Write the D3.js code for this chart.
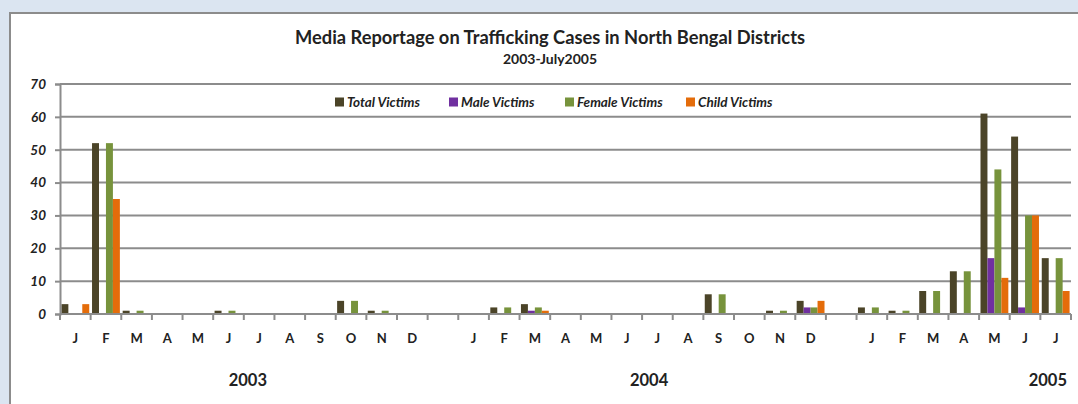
<!DOCTYPE html>
<html><head><meta charset="utf-8">
<script src="https://cdn.jsdelivr.net/npm/d3@7"></script>
<style>
html,body{margin:0;padding:0;background:#dbe5f1;}
svg{display:block;}
text{font-family:Lato,"Open Sans",sans-serif;fill:#222;}
</style></head>
<body>
<svg id="c" width="1078" height="404"></svg>
<script>
// Categories: month letters with an empty slot between years
const months = ["J","F","M","A","M","J","J","A","S","O","N","D","",
                "J","F","M","A","M","J","J","A","S","O","N","D","",
                "J","F","M","A","M","J","J"];
const years = ["2003","2004","2005"];
const seriesNames = ["Total Victims","Male Victims","Female Victims","Child Victims"];
const seriesColors = ["#4b4428","#7030a0","#77933c","#e46c0a"];
const totalVictims  = [3,52,1,0,0,1,0,0,0,4,1,0,null, 0,2,3,0,0,0,0,0,6,0,1,4,null, 2,1,7,13,61,54,17];
const maleVictims   = [0,0,0,0,0,0,0,0,0,0,0,0,null, 0,0,1,0,0,0,0,0,0,0,0,2,null, 0,0,0,0,17,2,0];
const femaleVictims = [0,52,1,0,0,1,0,0,0,4,1,0,null, 0,2,2,0,0,0,0,0,6,0,1,2,null, 2,1,7,13,44,30,17];
const childVictims  = [3,35,0,0,0,0,0,0,0,0,0,0,null, 0,0,1,0,0,0,0,0,0,0,0,4,null, 0,0,0,0,11,30,7];
const yTicks = [0,10,20,30,40,50,60,70];
const title = "Media Reportage on Trafficking Cases in North  Bengal Districts";
const subtitle = "2003-July2005";

const seriesData = [totalVictims, maleVictims, femaleVictims, childVictims];

(function(){
const svg = d3.select("#c");
// white panel
svg.append("rect").attr("x",10).attr("y",13).attr("width",1080).attr("height",400)
  .attr("fill","#fff").attr("stroke","#8c8c8c").attr("stroke-width",2);

const mL = 60, mR = 1071, mT = 84, mB = 314;
const x = d3.scaleBand().domain(d3.range(months.length)).range([mL,mR]).padding(0);
const xi = d3.scaleBand().domain(d3.range(seriesNames.length)).range([1.4, x.bandwidth()-1.4]).padding(0);
const y = d3.scaleLinear().domain([0,70]).range([mB,mT]);

// gridlines
svg.append("g").selectAll("line").data(yTicks.filter(d=>d>0)).join("line")
  .attr("x1",mL).attr("x2",mR).attr("y1",d=>y(d)).attr("y2",d=>y(d))
  .attr("stroke","#8c8c8c").attr("stroke-width",2);

// bars
const g = svg.append("g");
seriesData.forEach((arr,si)=>{
  g.append("g").selectAll("rect").data(arr.map((v,i)=>({v,i})).filter(d=>d.v!=null && d.v>0)).join("rect")
    .attr("x",d=>x(d.i)+xi(si)).attr("width",xi.bandwidth())
    .attr("y",d=>y(d.v)).attr("height",d=>y(0)-y(d.v))
    .attr("fill",seriesColors[si]);
});

// y axis
const ya = svg.append("g").attr("transform",`translate(${mL},0)`)
  .call(d3.axisLeft(y).tickValues(yTicks).tickSize(5).tickPadding(9));
ya.select(".domain").attr("stroke","#8c8c8c").attr("stroke-width",2);
ya.selectAll(".tick line").attr("stroke","#8c8c8c").attr("stroke-width",2);
ya.selectAll(".tick text").attr("font-size",13.5).attr("font-weight","bold").attr("font-style","italic").attr("fill","#222");

// x axis baseline + boundary ticks
svg.append("line").attr("x1",mL).attr("x2",mR).attr("y1",mB).attr("y2",mB)
  .attr("stroke","#8c8c8c").attr("stroke-width",2);
const bounds = d3.range(months.length+1).map(i=> i<months.length ? x(i) : mR);
svg.append("g").selectAll("line").data(bounds).join("line")
  .attr("x1",d=>d).attr("x2",d=>d).attr("y1",mB).attr("y2",mB+6)
  .attr("stroke","#8c8c8c").attr("stroke-width",2);

// month labels
svg.append("g").selectAll("text").data(months.map((m,i)=>({m,i})).filter(d=>d.m)).join("text")
  .attr("x",d=>x(d.i)+x.bandwidth()/2).attr("y",343)
  .attr("text-anchor","middle").attr("font-size",13).attr("font-weight","bold").text(d=>d.m);

// year labels
const yearPos = [x(6)+4, x(19)+7, mR-4];
const yearAnchor = ["middle","middle","end"];
svg.append("g").selectAll("text").data(years).join("text")
  .attr("x",(d,i)=>yearPos[i]).attr("y",386).attr("text-anchor",(d,i)=>yearAnchor[i])
  .attr("font-size",16.5).attr("font-weight","bold").text(d=>d);

// title
svg.append("text").attr("x",550).attr("y",44).attr("text-anchor","middle")
  .attr("font-size",18.3).attr("font-weight","bold").text(title);
svg.append("text").attr("x",550).attr("y",64).attr("text-anchor","middle")
  .attr("font-size",14).attr("font-weight","bold").text(subtitle);

// legend
const legX = [335,449,565,686];
const leg = svg.append("g").selectAll("g").data(seriesNames).join("g")
  .attr("transform",(d,i)=>`translate(${legX[i]},102)`);
leg.append("rect").attr("x",0).attr("y",-4.5).attr("width",9).attr("height",9)
  .attr("fill",(d,i)=>seriesColors[i]);
leg.append("text").attr("x",12).attr("y",5).attr("font-size",13.5)
  .attr("font-weight","bold").attr("font-style","italic").text(d=>d);
})();
</script>
</body></html>
